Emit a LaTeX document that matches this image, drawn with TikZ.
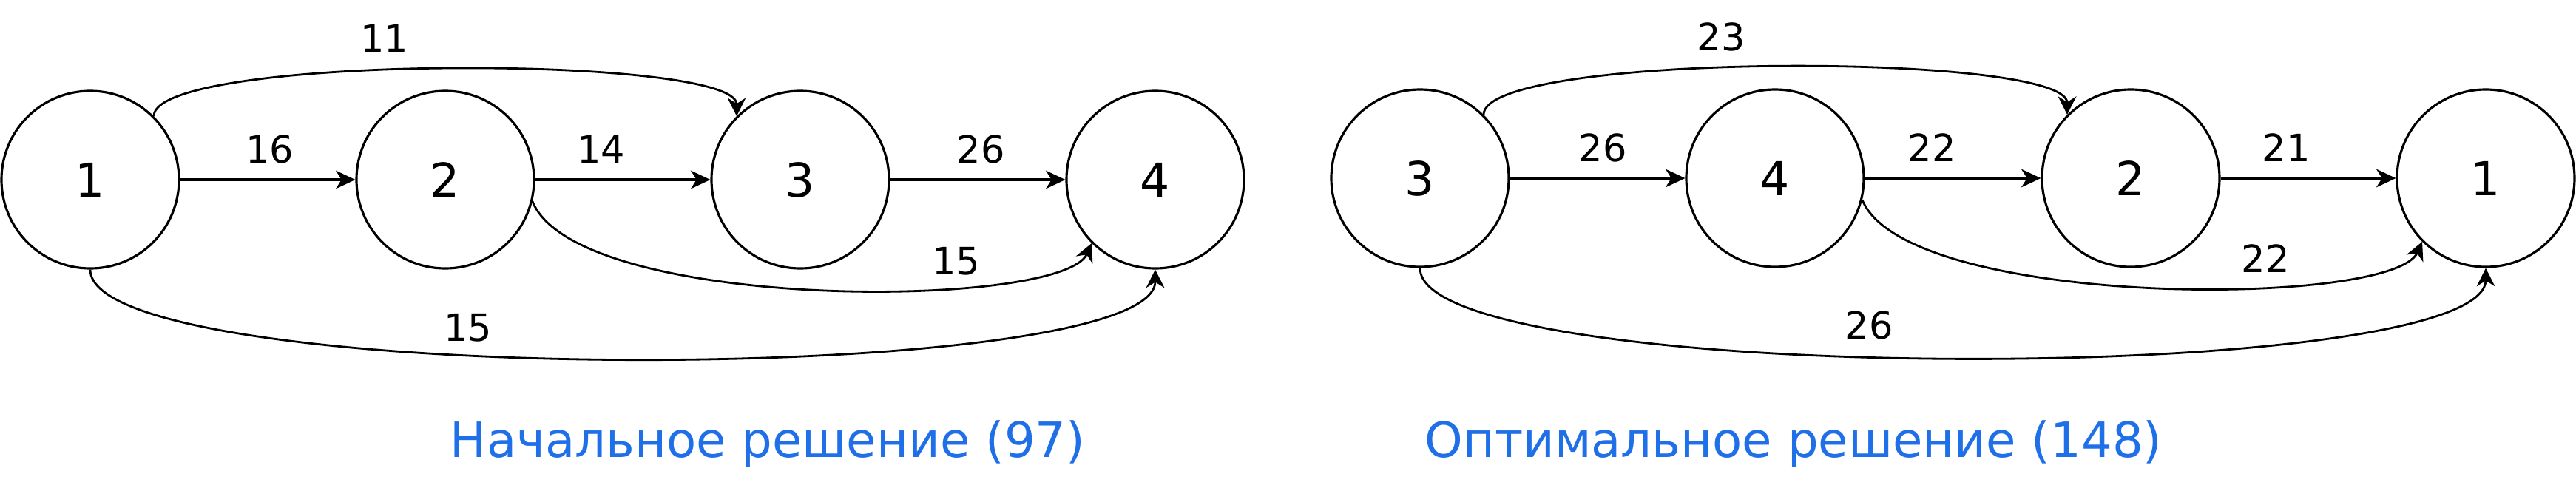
\documentclass[tikz,border=0pt]{standalone}
\usepackage{fontspec}
\setmainfont{DejaVu Sans}
\usepackage{tikz}
\usetikzlibrary{arrows.meta,positioning}
\definecolor{titleblue}{HTML}{1F6FE8}

\begin{document}
\begin{tikzpicture}[
    vertex/.style={circle,draw,line width=0.9pt,minimum size=2.4cm,inner sep=0pt,font=\fontsize{18}{20}\selectfont},
    wt/.style={inner sep=1pt,font=\fontsize{14.5}{16}\selectfont},
    arr/.style={line width=0.9pt,-{Stealth[length=7.5pt,width=7pt,inset=2.2pt]}},
    curvearr/.style={line width=0.8pt,-{Stealth[length=7pt,width=7pt,inset=2.2pt]}},
    heading/.style={text=titleblue,font=\fontsize{18.7}{21}\selectfont}]
        \useasboundingbox (0,0) rectangle (34.83,6.63);
        % initial solution
        \node[vertex] (l1) at (1.22,4.20) {1};
        \node[vertex] (l2) at (6.02,4.20) {2};
        \node[vertex] (l3) at (10.82,4.20) {3};
        \node[vertex] (l4) at (15.62,4.20) {4};
        \node[wt] (w12) at (3.65,4.61) {16};
        \node[wt] (w23) at (8.13,4.61) {14};
        \node[wt] (w34) at (13.26,4.61) {26};
        \node[wt] (w13) at (5.20,6.11) {11};
        \node[wt] (w24) at (12.93,3.10) {15};
        \node[wt] (w14) at (6.33,2.20) {15};
        \draw[arr] (l1) -- (l2);
        \draw[arr] (l2) -- (l3);
        \draw[arr] (l3) -- (l4);
        \draw[curvearr] (l1.45) .. controls +(0,0.84) and +(0,0.84) .. (l3.135);
        \draw[curvearr] (l2.-14) .. controls +(0.6,-1.5) and +(-0.4,-0.9) .. (l4.225);
        \draw[curvearr] (l1.south) .. controls +(0,-1.6) and +(0,-1.6) .. (l4.south);
        \node[heading] (t1) at (10.38,0.63) {Начальное решение (97)};
        % optimal solution
        \node[vertex] (r3) at (19.20,4.22) {3};
        \node[vertex] (r4) at (24.00,4.22) {4};
        \node[vertex] (r2) at (28.81,4.22) {2};
        \node[vertex] (r1) at (33.61,4.22) {1};
        \node[wt] (v34) at (21.67,4.63) {26};
        \node[wt] (v42) at (26.12,4.63) {22};
        \node[wt] (v21) at (30.91,4.63) {21};
        \node[wt] (v32) at (23.27,6.13) {23};
        \node[wt] (v41) at (30.63,3.13) {22};
        \node[wt] (v31) at (25.27,2.23) {26};
        \draw[arr] (r3) -- (r4);
        \draw[arr] (r4) -- (r2);
        \draw[arr] (r2) -- (r1);
        \draw[curvearr] (r3.45) .. controls +(0,0.85) and +(0,0.85) .. (r2.135);
        \draw[curvearr] (r4.-14) .. controls +(0.6,-1.47) and +(-0.4,-0.9) .. (r1.225);
        \draw[curvearr] (r3.south) .. controls +(0,-1.61) and +(0,-1.61) .. (r1.south);
        \node[heading] (t2) at (24.25,0.63) {Оптимальное решение (148)};
      \end{tikzpicture}
\end{document}
